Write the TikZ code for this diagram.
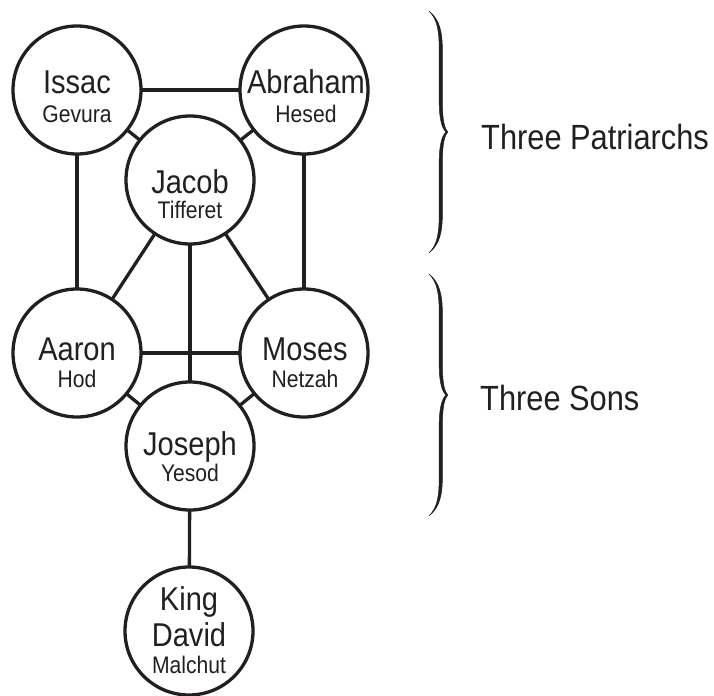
\documentclass[tikz,border=0pt]{standalone}
\usepackage{fontspec}
\setmainfont[FakeStretch=0.88]{Liberation Sans}
\definecolor{ink}{RGB}{35,31,32}
\begin{document}
\begin{tikzpicture}[x=1bp,y=-1bp,
  circ/.style={circle,draw=ink,line width=3.3bp,minimum size=128bp,inner sep=0pt,outer sep=0pt},
  conn/.style={draw=ink,line width=3.3bp},
  nm/.style={anchor=base,inner sep=0pt,text=ink,font=\fontsize{33bp}{36bp}\selectfont},
  sb/.style={anchor=base,inner sep=0pt,text=ink,font=\fontsize{24bp}{26bp}\selectfont},
  grp/.style={anchor=base west,inner sep=0pt,text=ink,font=\fontsize{35bp}{38bp}\selectfont},
  bracefill/.style={fill=ink,draw=ink,line width=0.5bp,line join=round},
  pics/curly/.style={code={
    \path[bracefill] (-18,-121) .. controls (-7,-112) and (-4.6,-100) .. (-4.6,-80)
      -- (-4.6,-30) .. controls (-4.6,-10) and (-2,-3) .. (0.8,0)
      .. controls (-2,3) and (-4.6,10) .. (-4.6,30)
      -- (-4.6,80) .. controls (-4.6,100) and (-7,112) .. (-18,121)
      .. controls (-9,112) and (-7.8,100) .. (-7.8,80)
      -- (-7.8,30) .. controls (-7.8,10) and (-4,3) .. (-1.2,0)
      .. controls (-4,-3) and (-7.8,-10) .. (-7.8,-30)
      -- (-7.8,-80) .. controls (-7.8,-100) and (-9,-112) .. (-18,-121) -- cycle;
  }}]
\useasboundingbox (0,0) rectangle (714,696);

\node[circ] (issac) at (77,90) {};
\node[circ] (abraham) at (304,90) {};
\node[circ] (jacob) at (190,180) {};
\node[circ] (aaron) at (77,353) {};
\node[circ] (moses) at (304,353) {};
\node[circ] (joseph) at (190,446) {};
\node[circ] (david) at (189,631) {};

\draw[conn] (issac) -- (abraham);
\draw[conn] (issac) -- (aaron);
\draw[conn] (abraham) -- (moses);
\draw[conn] (issac) -- (jacob);
\draw[conn] (abraham) -- (jacob);
\draw[conn] (jacob) -- (aaron);
\draw[conn] (jacob) -- (moses);
\draw[conn] (aaron) -- (moses);
\draw[conn] (jacob) -- (joseph);
\draw[conn] (aaron) -- (joseph);
\draw[conn] (moses) -- (joseph);
\draw[conn] (joseph) -- (david);

\node[nm] (t1) at (77,94) {Issac};
\node[sb] (s1) at (77,123) {Gevura};
\node[nm] (t2) at (306,94) {Abraham};
\node[sb] (s2) at (306,123) {Hesed};
\node[nm] (t3) at (190,193) {Jacob};
\node[sb] (s3) at (190,218) {Tifferet};
\node[nm] (t4) at (77,360) {Aaron};
\node[sb] (s4) at (77,387) {Hod};
\node[nm] (t5) at (305,360) {Moses};
\node[sb] (s5) at (305,387) {Netzah};
\node[nm] (t6) at (190,455) {Joseph};
\node[sb] (s6) at (190,481) {Yesod};
\node[nm] (t7) at (189,610) {King};
\node[nm] (t8) at (189,646) {David};
\node[sb] (s7) at (189,673) {Malchut};

\pic (b1) at (447,132) {curly};
\pic (b2) at (447,395) {curly};
\node[grp] (g1) at (481,149) {Three Patriarchs};
\node[grp] (g2) at (480,410) {Three Sons};
\end{tikzpicture}
\end{document}
